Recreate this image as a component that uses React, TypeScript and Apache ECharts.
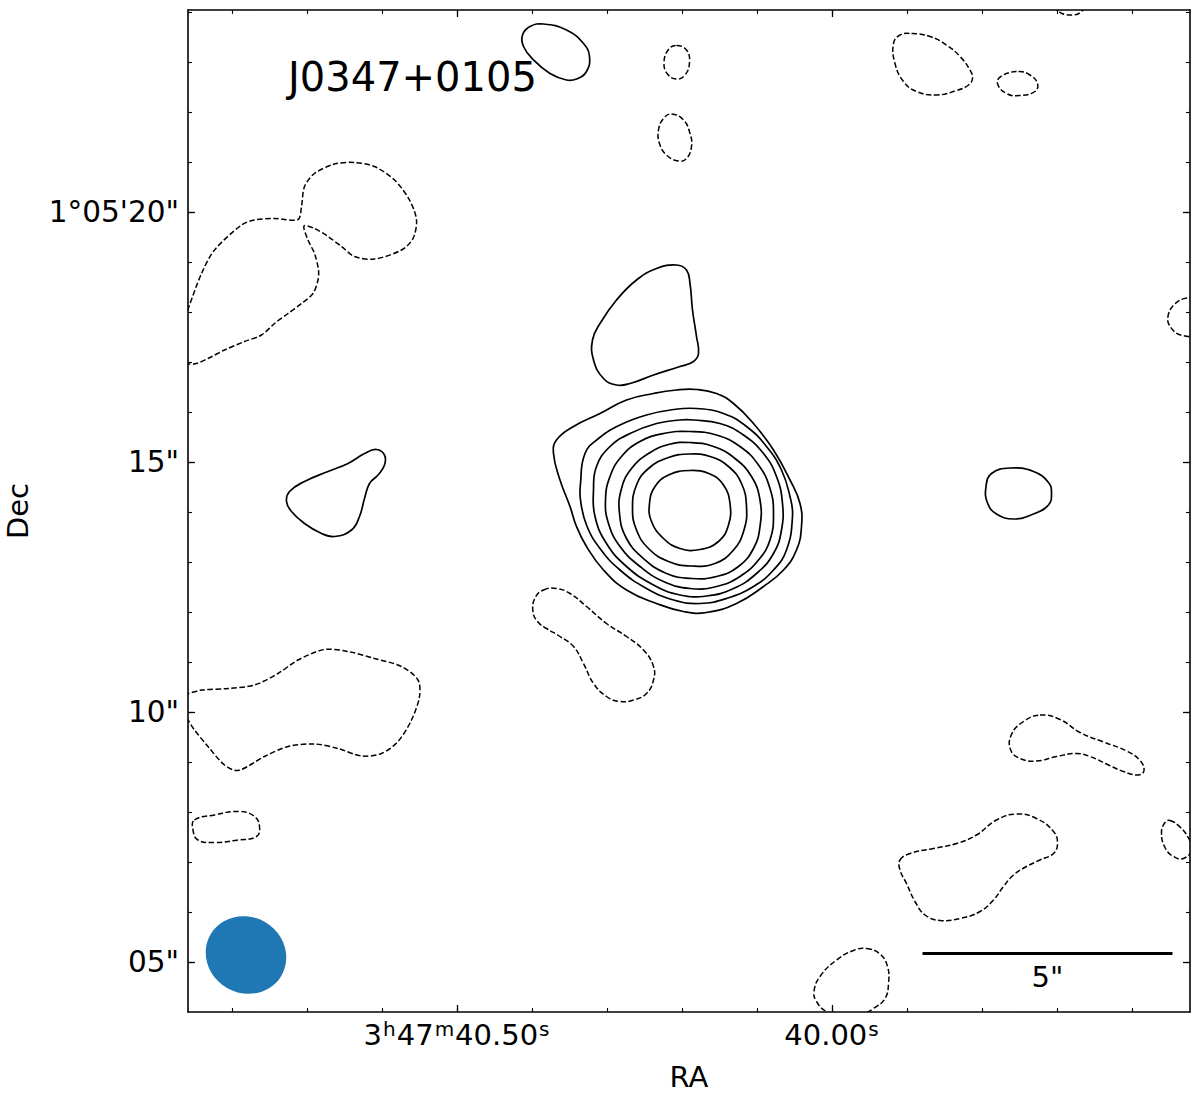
import React, { useEffect, useRef } from 'react';
import * as echarts from 'echarts';

type Pt = [number, number];
const FONT = 'DejaVu Sans';

// Offsets in arcsec: x = east offset from RA 3h47m40.00s, y = Dec seconds of 1°05'xx"
const raRefSeconds = 40.0;
const decDegrees = 1 + 5 / 60 + 14 / 3600;
const arcsecPerRaSecond = 15 * Math.cos((decDegrees * Math.PI) / 180);
const raOffset = (sec: number) => (sec - raRefSeconds) * arcsecPerRaSecond;

const xRange: Pt = [-7.16, 12.88];
const yRange: Pt = [4.0, 24.04];

const raMajorSeconds = [40.5, 40.0];
const raMajorLabels = ['{n|3}{s|h}{n|47}{s|m}{n|40.50}{s|s}', '{n|40.00}{s|s}'];
const raMinorSeconds = [40.8, 40.7, 40.6, 40.5, 40.4, 40.3, 40.2, 40.1, 40.0, 39.9, 39.8, 39.7, 39.6];
const decMajorTicks = [5, 10, 15, 20];
const decMajorLabels = ['05"', '10"', '15"', '1°05\'20"'];
const decMinorTicks = [5, 6, 7, 8, 9, 10, 11, 12, 13, 14, 15, 16, 17, 18, 19, 20, 21, 22, 23, 24];

const titleText = 'J0347+0105';

// Core source, solid contours from outer to inner
const coreLevel1: Pt[] = [[2.71,16.45],[2.31,16.37],[1.97,16.17],[1.57,15.77],[1.17,15.24],[0.84,14.64],[0.64,14.17],[0.61,13.71],[0.71,13.24],[0.97,12.84],[1.37,12.51],[1.91,12.17],[2.51,11.99],[2.97,12.01],[3.51,12.17],[4.11,12.44],[4.57,12.84],[4.91,13.31],[5.11,13.71],[5.24,14.11],[5.44,14.64],[5.57,15.17],[5.51,15.44],[5.17,15.71],[4.64,15.97],[4.11,16.24],[3.57,16.37],[3.11,16.44]];
const coreLevel2: Pt[] = [[2.71,16.07],[2.17,15.97],[1.71,15.71],[1.31,15.31],[1.01,14.84],[0.84,14.31],[0.79,13.91],[0.91,13.24],[1.17,12.84],[1.57,12.51],[2.11,12.27],[2.64,12.17],[3.17,12.24],[3.71,12.47],[4.24,12.84],[4.64,13.27],[4.91,13.74],[5.03,14.24],[5.03,14.57],[4.94,15.17],[4.67,15.47],[4.24,15.74],[3.71,15.94],[3.17,16.05]];
const coreLevel3: Pt[] = [[2.77,15.84],[2.24,15.77],[1.77,15.54],[1.37,15.17],[1.11,14.71],[0.99,14.17],[1.01,13.64],[1.17,13.17],[1.51,12.77],[1.97,12.47],[2.51,12.32],[3.04,12.34],[3.57,12.54],[4.11,12.91],[4.51,13.37],[4.74,13.91],[4.77,14.44],[4.71,14.91],[4.44,15.31],[4.04,15.57],[3.51,15.77],[3.04,15.84]];
const coreLevel4: Pt[] = [[2.84,15.61],[2.31,15.54],[1.84,15.31],[1.47,14.94],[1.24,14.47],[1.17,13.97],[1.24,13.44],[1.47,13.04],[1.84,12.71],[2.31,12.51],[2.84,12.47],[3.37,12.61],[3.84,12.91],[4.24,13.31],[4.47,13.77],[4.53,14.24],[4.44,14.71],[4.21,15.11],[3.84,15.41],[3.37,15.57]];
const coreLevel5: Pt[] = [[2.84,15.39],[2.37,15.31],[1.94,15.07],[1.61,14.71],[1.44,14.24],[1.44,13.71],[1.57,13.27],[1.87,12.91],[2.31,12.71],[2.81,12.67],[3.31,12.77],[3.77,13.07],[4.11,13.47],[4.25,13.97],[4.21,14.47],[4.01,14.87],[3.67,15.17],[3.27,15.35]];
const coreLevel6: Pt[] = [[2.84,15.16],[2.44,15.11],[2.07,14.91],[1.81,14.57],[1.71,14.11],[1.76,13.64],[1.97,13.24],[2.34,12.97],[2.81,12.92],[3.27,13.01],[3.67,13.27],[3.91,13.64],[3.99,14.07],[3.91,14.54],[3.67,14.87],[3.27,15.09]];
const coreLevel7: Pt[] = [[2.84,14.83],[2.44,14.76],[2.17,14.54],[2.04,14.17],[2.07,13.74],[2.27,13.41],[2.64,13.25],[3.04,13.27],[3.37,13.47],[3.61,13.81],[3.65,14.17],[3.54,14.51],[3.27,14.74]];

// Other positive (solid) contours
const posNorthOfCore: Pt[] = [[3.11,18.94],[2.91,18.84],[2.84,18.57],[2.79,18.04],[2.71,17.51],[2.67,17.17],[2.77,17.01],[3.04,16.91],[3.57,16.74],[4.04,16.57],[4.31,16.54],[4.57,16.67],[4.77,17.04],[4.79,17.44],[4.64,17.77],[4.31,18.24],[3.91,18.64],[3.51,18.87]];
const posTopBlob: Pt[] = [[5.77,23.76],[5.31,23.64],[4.97,23.37],[4.85,23.11],[4.91,22.81],[5.11,22.66],[5.31,22.64],[5.64,22.77],[5.97,23.04],[6.17,23.31],[6.19,23.54],[6.04,23.71]];
const posWestOfCore: Pt[] = [[9.11,15.25],[8.95,15.14],[8.95,14.94],[9.08,14.74],[9.25,14.57],[9.35,14.27],[9.45,13.91],[9.61,13.64],[9.95,13.51],[10.21,13.57],[10.55,13.77],[10.81,14.01],[10.91,14.21],[10.85,14.41],[10.55,14.61],[10.08,14.81],[9.68,14.97],[9.35,15.17]];
const posEastBlob: Pt[] = [[-3.56,14.88],[-4.03,14.81],[-4.33,14.59],[-4.39,14.37],[-4.33,14.14],[-4.03,13.96],[-3.63,13.86],[-3.29,13.96],[-3.11,14.18],[-3.08,14.51],[-3.19,14.77]];

// Negative (dashed) contours
const negNorthWest: Pt[] = [[12.94,17.88],[12.85,18.14],[12.61,18.77],[12.35,19.24],[11.81,19.74],[11.55,19.84],[11.15,19.87],[10.68,19.85],[10.61,20.11],[10.55,20.51],[10.35,20.77],[9.95,20.96],[9.55,20.99],[9.15,20.91],[8.75,20.64],[8.45,20.24],[8.31,19.84],[8.38,19.47],[8.61,19.24],[9.15,19.06],[9.55,19.11],[9.81,19.31],[10.08,19.51],[10.35,19.67],[10.56,19.72],[10.48,19.44],[10.35,19.17],[10.27,18.84],[10.28,18.64],[10.38,18.37],[10.61,18.17],[10.88,17.97],[11.15,17.77],[11.41,17.54],[11.75,17.41],[12.15,17.24],[12.48,17.07],[12.75,16.96],[12.96,16.98]];
const negTopSmall1: Pt[] = [[3.11,23.33],[2.91,23.24],[2.85,22.99],[2.94,22.74],[3.11,22.66],[3.29,22.76],[3.36,22.99],[3.27,23.25]];
const negTopSmall2: Pt[] = [[3.21,21.96],[2.97,21.84],[2.84,21.57],[2.81,21.31],[2.91,21.07],[3.07,21.02],[3.31,21.14],[3.45,21.37],[3.47,21.64],[3.37,21.87]];
const negTopRight1: Pt[] = [[-1.59,23.57],[-1.96,23.51],[-2.29,23.34],[-2.56,23.11],[-2.76,22.84],[-2.81,22.67],[-2.73,22.54],[-2.49,22.43],[-2.09,22.34],[-1.69,22.41],[-1.43,22.61],[-1.26,22.97],[-1.23,23.37],[-1.36,23.54]];
const negTopRight2: Pt[] = [[-3.73,22.81],[-3.96,22.74],[-4.11,22.57],[-4.06,22.41],[-3.76,22.33],[-3.49,22.37],[-3.31,22.57],[-3.39,22.72]];
const negTopEdge: Pt[] = [[-4.42,24.10],[-4.6,23.97],[-4.76,23.94],[-4.92,23.96],[-5.08,24.10]];
const negRightEdge: Pt[] = [[-7.26,18.30],[-6.96,18.24],[-6.76,18.04],[-6.72,17.80],[-6.88,17.58],[-7.16,17.50],[-7.26,17.49]];
const negSouthOfCore: Pt[] = [[5.77,12.44],[5.51,12.47],[5.24,12.37],[4.91,12.11],[4.51,11.77],[4.11,11.51],[3.77,11.24],[3.57,10.91],[3.57,10.64],[3.71,10.37],[3.97,10.24],[4.24,10.21],[4.51,10.31],[4.77,10.57],[4.97,10.97],[5.17,11.31],[5.44,11.51],[5.71,11.67],[5.88,11.80],[5.98,12.0],[5.94,12.28]];
const negWest10: Pt[] = [[12.96,10.37],[12.88,10.37],[12.61,10.44],[12.08,10.47],[11.55,10.54],[11.08,10.77],[10.68,11.04],[10.15,11.25],[9.68,11.21],[9.15,11.07],[8.61,10.91],[8.28,10.64],[8.25,10.31],[8.41,9.84],[8.68,9.41],[9.01,9.17],[9.41,9.12],[9.88,9.27],[10.35,9.36],[10.88,9.31],[11.35,9.11],[11.88,8.83],[12.15,8.94],[12.48,9.31],[12.75,9.64],[12.88,9.84],[12.96,9.96]];
const negWest8: Pt[] = [[12.75,7.84],[12.35,7.94],[11.85,8.01],[11.55,7.91],[11.45,7.71],[11.51,7.51],[11.88,7.44],[12.35,7.39],[12.68,7.44],[12.78,7.64]];
const negEast9: Pt[] = [[-4.16,9.94],[-4.56,9.85],[-4.96,9.59],[-5.43,9.40],[-5.89,9.22],[-6.16,9.03],[-6.24,8.83],[-6.13,8.74],[-5.83,8.81],[-5.49,8.96],[-5.16,9.11],[-4.89,9.17],[-4.49,9.11],[-4.09,9.02],[-3.76,9.07],[-3.57,9.25],[-3.59,9.55],[-3.83,9.81]];
const negEastEdge7: Pt[] = [[-6.76,7.83],[-6.96,7.70],[-7.13,7.48],[-7.2,7.26],[-7.03,7.07],[-6.83,7.11],[-6.66,7.29],[-6.59,7.59],[-6.66,7.79]];
const negSouthEast: Pt[] = [[-1.36,7.04],[-1.56,7.17],[-2.03,7.27],[-2.49,7.37],[-2.89,7.54],[-3.29,7.84],[-3.69,7.96],[-4.09,7.87],[-4.43,7.61],[-4.51,7.37],[-4.43,7.17],[-4.16,7.04],[-3.89,6.91],[-3.63,6.74],[-3.43,6.51],[-3.23,6.24],[-2.96,6.01],[-2.56,5.87],[-2.16,5.83],[-1.86,5.94],[-1.66,6.21],[-1.49,6.57],[-1.36,6.84]];
const negBottomEdge: Pt[] = [[-0.69,5.27],[-0.96,5.16],[-1.11,4.91],[-1.13,4.57],[-1.06,4.27],[-0.83,4.07],[-0.63,3.97],[-0.23,3.94],[0.11,4.01],[0.31,4.21],[0.36,4.41],[0.24,4.71],[-0.09,5.04],[-0.43,5.23]];

const solidClosed: Pt[][] = [coreLevel1, coreLevel2, coreLevel3, coreLevel4, coreLevel5, coreLevel6, coreLevel7, posNorthOfCore, posTopBlob, posWestOfCore, posEastBlob];
const dashedClosed: Pt[][] = [negTopSmall1, negTopSmall2, negTopRight1, negTopRight2, negSouthOfCore, negWest8, negEast9, negEastEdge7, negSouthEast, negBottomEdge];
const dashedOpen: Pt[][] = [negNorthWest, negTopEdge, negRightEdge, negWest10];

// Beam (arcsec) and scale bar
const beamCenter: Pt = [11.72, 5.14];
const beamMajor = 1.64;
const beamMinor = 1.52;
const beamPA = 60;
const scaleBarStart: Pt = [-1.81, 5.17];
const scaleBarLength = 5;
const scaleBarLabel = '5"';
const scaleBarLabelPos: Pt = [-4.31, 4.71];

function contourSeries(pts: Pt[], dashed: boolean, closed: boolean) {
  return {
    type: 'custom',
    coordinateSystem: 'cartesian2d',
    xAxisIndex: 0,
    yAxisIndex: 0,
    clip: true,
    silent: true,
    data: pts,
    encode: { x: 0, y: 1 },
    renderItem: (params: any, api: any) => {
      if (params.dataIndex !== 0) return null;
      const points = pts.map((p) => api.coord(p));
      return {
        type: closed ? 'polygon' : 'polyline',
        shape: { points, smooth: closed ? 0.45 : 0.3 },
        style: {
          fill: null,
          stroke: '#000',
          lineWidth: dashed ? 1.5 : 1.7,
          lineDash: dashed ? [5.5, 2.5] : null,
        },
      };
    },
  };
}

function findLabel(values: number[], labels: string[], v: number) {
  for (let i = 0; i < values.length; i++) if (Math.abs(values[i] - v) < 1e-6) return labels[i];
  return '';
}

export default function App() {
  const ref = useRef<HTMLDivElement>(null);
  useEffect(() => {
    if (!ref.current) return;
    const chart = echarts.init(ref.current, null, { renderer: 'svg' });
    const raMajor = raMajorSeconds.map(raOffset);
    const raMinor = raMinorSeconds.map(raOffset);
    const axisLine = { show: true, onZero: false, lineStyle: { color: '#000', width: 1.6 } };
    const noLine = { show: false, onZero: false };
    const baseX = { type: 'value', min: xRange[0], max: xRange[1], inverse: true, splitLine: { show: false } };
    const baseY = { type: 'value', min: yRange[0], max: yRange[1], splitLine: { show: false } };
    const grid = { left: 188, top: 10, width: 1002, height: 1002, containLabel: false, outerBoundsMode: 'none' };
    const tickMajor = { show: true, inside: true, length: 7, lineStyle: { color: '#000', width: 1.3 } };
    const tickMinor = { show: true, inside: true, length: 4, lineStyle: { color: '#000', width: 1.1 } };

    const series: any[] = [];
    solidClosed.forEach((c) => series.push(contourSeries(c, false, true)));
    dashedClosed.forEach((c) => series.push(contourSeries(c, true, true)));
    dashedOpen.forEach((c) => series.push(contourSeries(c, true, false)));
    series.push({
      type: 'custom',
      coordinateSystem: 'cartesian2d',
      xAxisIndex: 0,
      yAxisIndex: 0,
      silent: true,
      data: [beamCenter],
      renderItem: (params: any, api: any) => {
        const c = api.coord([api.value(0), api.value(1)]);
        const sz = api.size([beamMajor, beamMinor]);
        return {
          type: 'ellipse',
          x: c[0],
          y: c[1],
          rotation: ((beamPA - 90) * Math.PI) / 180,
          shape: { cx: 0, cy: 0, rx: Math.abs(sz[0]) / 2, ry: Math.abs(sz[1]) / 2 },
          style: { fill: '#1f77b4' },
        };
      },
    });
    series.push({
      type: 'custom',
      coordinateSystem: 'cartesian2d',
      xAxisIndex: 0,
      yAxisIndex: 0,
      silent: true,
      data: [scaleBarStart],
      renderItem: (params: any, api: any) => {
        const a = api.coord([api.value(0), api.value(1)]);
        const b = api.coord([api.value(0) - scaleBarLength, api.value(1)]);
        const t = api.coord(scaleBarLabelPos);
        return {
          type: 'group',
          children: [
            { type: 'line', shape: { x1: a[0], y1: a[1], x2: b[0], y2: b[1] }, style: { stroke: '#000', lineWidth: 3 } },
            {
              type: 'text',
              x: t[0],
              y: t[1],
              style: { text: scaleBarLabel, fill: '#000', fontSize: 29, fontFamily: FONT, align: 'center', verticalAlign: 'middle' },
            },
          ],
        };
      },
    });

    chart.setOption({
      animation: false,
      backgroundColor: '#fff',
      title: {
        text: titleText,
        left: 288,
        top: 57,
        padding: 0,
        textStyle: { fontFamily: FONT, fontSize: 40, fontWeight: 'normal', color: '#000' },
      },
      grid: [grid, grid],
      xAxis: [
        {
          ...baseX,
          gridIndex: 0,
          position: 'bottom',
          axisLine,
          axisTick: { ...tickMajor, customValues: raMajor },
          axisLabel: {
            customValues: raMajor,
            margin: 7,
            formatter: (v: number) => findLabel(raMajor, raMajorLabels, v),
            rich: {
              n: { fontFamily: FONT, fontSize: 29, color: '#000', lineHeight: 31 },
              s: { fontFamily: FONT, fontSize: 20, color: '#000', lineHeight: 20, verticalAlign: 'top', padding: [0, 1, 0, 1] },
            },
          },
          name: 'RA',
          nameLocation: 'middle',
          nameGap: 50,
          nameTextStyle: { fontFamily: FONT, fontSize: 29, color: '#000' },
        },
        { ...baseX, gridIndex: 0, position: 'top', axisLine, axisTick: { ...tickMajor, customValues: raMajor }, axisLabel: { show: false } },
        { ...baseX, gridIndex: 1, position: 'bottom', axisLine: noLine, axisTick: { ...tickMinor, customValues: raMinor }, axisLabel: { show: false } },
        { ...baseX, gridIndex: 1, position: 'top', axisLine: noLine, axisTick: { ...tickMinor, customValues: raMinor }, axisLabel: { show: false } },
      ],
      yAxis: [
        {
          ...baseY,
          gridIndex: 0,
          position: 'left',
          axisLine,
          axisTick: { ...tickMajor, customValues: decMajorTicks },
          axisLabel: {
            customValues: decMajorTicks,
            margin: 9,
            fontFamily: FONT,
            fontSize: 29.5,
            color: '#000',
            formatter: (v: number) => findLabel(decMajorTicks, decMajorLabels, v),
          },
          name: 'Dec',
          nameLocation: 'middle',
          nameGap: 156,
          nameTextStyle: { fontFamily: FONT, fontSize: 29, color: '#000' },
        },
        { ...baseY, gridIndex: 0, position: 'right', axisLine, axisTick: { ...tickMajor, customValues: decMajorTicks }, axisLabel: { show: false } },
        { ...baseY, gridIndex: 1, position: 'left', axisLine: noLine, axisTick: { ...tickMinor, customValues: decMinorTicks }, axisLabel: { show: false } },
        { ...baseY, gridIndex: 1, position: 'right', axisLine: noLine, axisTick: { ...tickMinor, customValues: decMinorTicks }, axisLabel: { show: false } },
      ],
      series,
    });
    return () => chart.dispose();
  }, []);
  return <div ref={ref} style={{ position: 'absolute', left: 0, top: 0, width: 1200, height: 1096, background: '#fff' }} />;
}
